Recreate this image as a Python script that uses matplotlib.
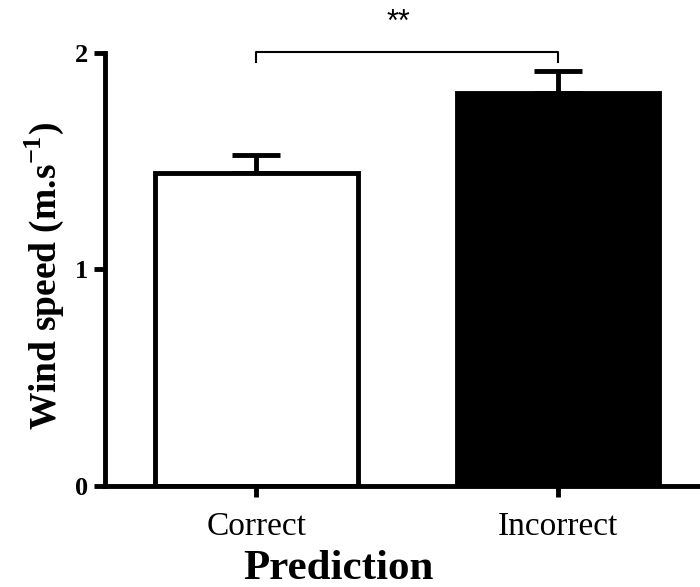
import matplotlib
matplotlib.use("Agg")
from matplotlib import pyplot as plt

categories = ["Correct", "Incorrect"]
means = [1.446, 1.815]
sems = [0.083, 0.102]
bar_colors = ["white", "black"]
significance = "**"

plt.rcParams['font.family'] = ['Liberation Serif', 'DejaVu Serif']
plt.rcParams['mathtext.fontset'] = 'custom'
plt.rcParams['mathtext.rm'] = 'Liberation Serif:bold'
plt.rcParams['mathtext.bf'] = 'Liberation Serif:bold'


def main():
    fig = plt.figure(figsize=(7, 5.87), dpi=100)
    ax = fig.add_axes([0.15, 0.172, 0.85, 0.738])

    x = list(range(len(categories)))
    ax.bar(x, means, width=0.67, color=bar_colors, edgecolor="black",
           linewidth=3.5, zorder=2)
    ax.errorbar(x, means, yerr=[[0] * len(sems), sems], fmt="none",
                ecolor="black", elinewidth=3.5, capsize=17, capthick=3.5,
                zorder=1)

    ax.set_xlim(-0.502, 1.47)
    ax.set_ylim(0, 2)
    ax.set_yticks([0, 1, 2])
    ax.set_xticks(x)
    ax.set_xticklabels(categories, fontsize=24)
    ax.set_yticklabels(["0", "1", "2"], fontsize=19, fontweight="bold")

    for side in ("top", "right"):
        ax.spines[side].set_visible(False)
    for side in ("left", "bottom"):
        ax.spines[side].set_linewidth(3.5)
    ax.tick_params(axis="both", width=3.5, length=8, direction="out")
    ax.tick_params(axis="x", pad=10)
    ax.tick_params(axis="y", pad=4)

    ax.set_xlabel("Prediction", fontsize=31, fontweight="bold")
    ax.xaxis.set_label_coords(0.392, -0.192, transform=ax.transAxes)
    ax.xaxis.label.set_va("center")
    ax.set_ylabel(r"Wind speed (m.s$^{\mathbf{-1}}$)", fontsize=27,
                  fontweight="bold")
    ax.yaxis.set_label_coords(-0.066, 0.485)

    # significance bracket between the two bars
    top = 2.005
    drop = 1.958
    ax.plot([x[0], x[0], x[1], x[1]], [drop, top, top, drop], color="black",
            linewidth=1.5, clip_on=False)
    ax.text((x[0] + x[1]) / 2 - 0.03, 2.14, significance, ha="center",
            va="center", fontsize=22, family=["Liberation Sans", "DejaVu Sans"])

    fig.savefig("out.png", dpi=100)


if __name__ == '__main__':
    main()
